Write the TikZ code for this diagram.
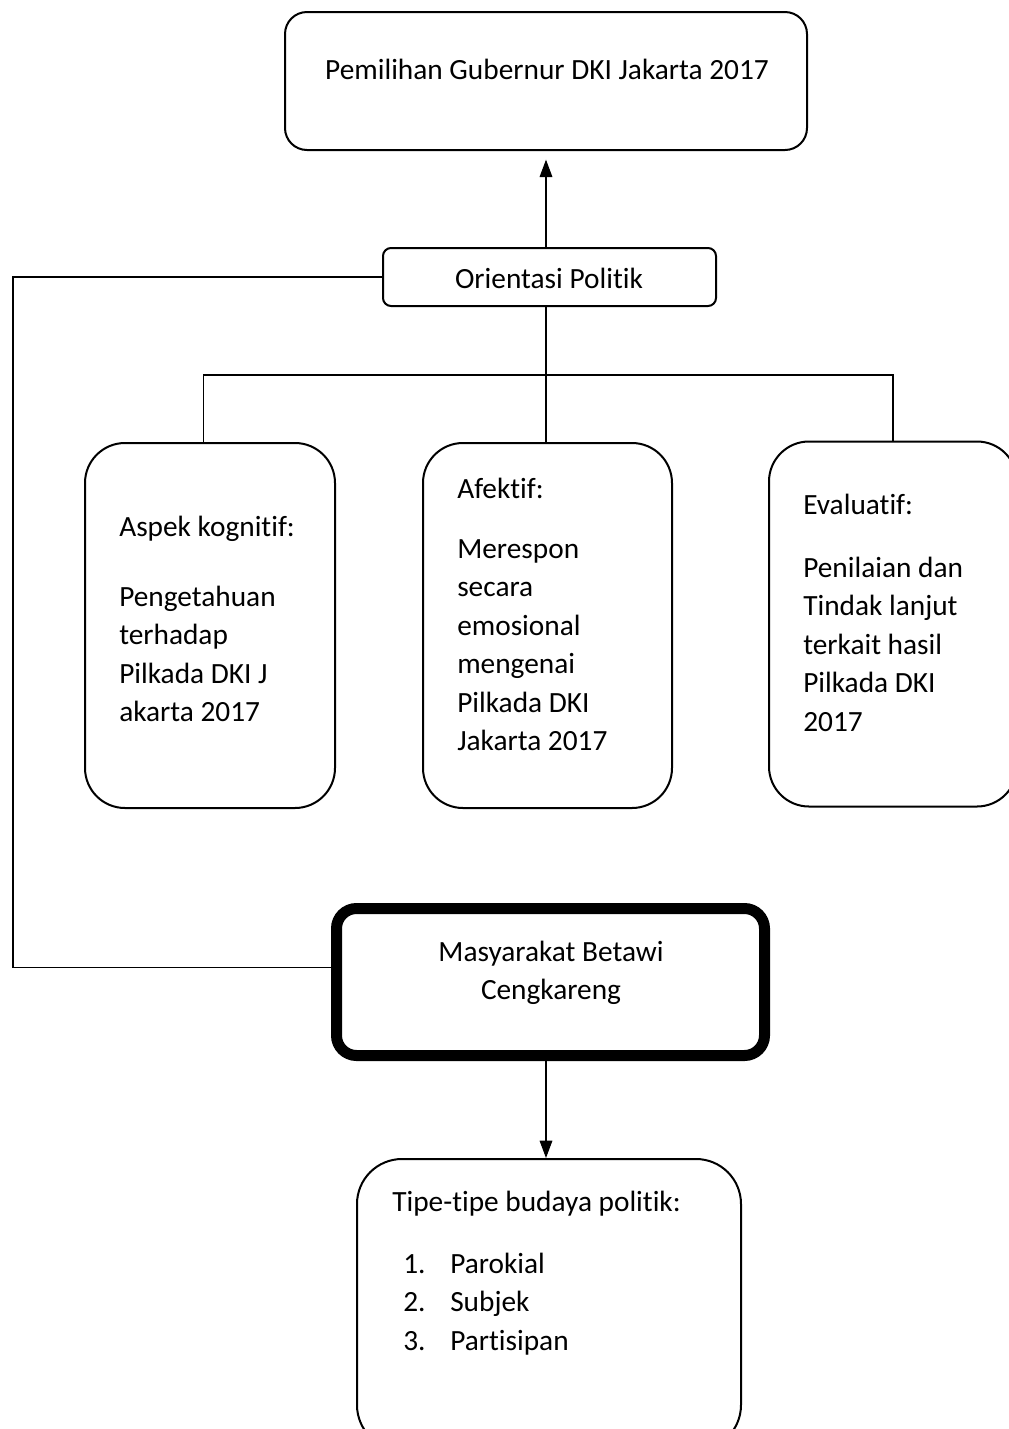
\documentclass[tikz,border=0pt]{standalone}
\usepackage{fontspec}
\setmainfont{Carlito}[Ligatures=NoCommon]
\usetikzlibrary{positioning, arrows.meta, calc}

\begin{document}
\begin{tikzpicture}[
  x=0.75pt, y=-0.75pt,
  box/.style={
    rectangle, rounded corners=#1, draw=black, line width=1.5pt,
    fill=white, inner sep=0pt
  },
  box/.default=16pt,
  txt/.style={font=\fontsize{22}{28.9}\selectfont, inner sep=0pt, align=left},
  arr/.style={-{Triangle[length=13pt,width=9.5pt]}, line width=0.8pt},
  link/.style={line width=1.1pt},
]
\useasboundingbox (0,0) rectangle (1009,1429);
\clip (0,0) rectangle (1009,1429);

% Pilkada
\node[box=16.5pt, minimum width=391.5pt, minimum height=103.5pt] (gub) at (546,81) {};
\node[txt, anchor=base] (gubtxt) at (547,79) {Pemilihan Gubernur DKI Jakarta 2017};

% Orientasi
\node[box=6pt, minimum width=249.75pt, minimum height=43.5pt] (orient) at (549.5,277) {};
\node[txt, anchor=base] (orienttxt) at (549,288) {Orientasi Politik};

% Kognitif
\node[box=30pt, minimum width=187.5pt, minimum height=273.75pt] (kog) at (210,625.5) {};
\node[txt, anchor=north west] (kogtxt) at (119,509) {\strut Aspek kognitif:\\[23.6pt]
  Pengetahuan\\
  terhadap\\
  Pilkada DKI J\\
  akarta 2017};

% Afektif
\node[box=30pt, minimum width=186.75pt, minimum height=273.75pt] (afek) at (547.5,625.5) {};
\node[txt, anchor=north west] (afektxt) at (457,471) {\strut Afektif:\\[16pt]
  Merespon\\
  secara\\
  emosional\\
  mengenai\\
  Pilkada DKI\\
  Jakarta 2017};

% Evaluatif
\node[box=30pt, minimum width=186pt, minimum height=273.75pt] (eval) at (893,624) {};
\node[txt, anchor=north west] (evaltxt) at (803,487) {\strut Evaluatif:\\[18.4pt]
  Penilaian dan\\
  Tindak lanjut\\
  terkait hasil\\
  Pilkada DKI\\
  2017};

% Masyarakat
\node[box=15pt, line width=8.25pt, minimum width=321pt, minimum height=110.25pt] (masy) at (550.5,982) {};
\node[txt, align=center, anchor=north] (masytxt) at (551,934) {\strut Masyarakat Betawi\\Cengkareng};

% Tipe budaya politik
\node[box=33.75pt, minimum width=288pt, minimum height=218.25pt] (tipe) at (549,1304.5) {};
\node[txt, anchor=north west] (tipetxt) at (392,1184) {\strut Tipe-tipe budaya politik:\\[17.6pt]
  \hspace*{8.25pt}\makebox[35.25pt][l]{1.}Parokial\\
  \hspace*{8.25pt}\makebox[35.25pt][l]{2.}Subjek\\
  \hspace*{8.25pt}\makebox[35.25pt][l]{3.}Partisipan};

% Connectors
\coordinate (lft) at (13,0);
\coordinate (bar) at (546,375);
\coordinate (masyin) at ([yshift=11pt]masy.west);
\draw[arr, shorten >=6.5pt] (gub.south |- orient.north) -- (gub.south);
\draw[link] (orient.west) -| (lft |- masyin) -- (masyin);
\draw[link] (gub.south |- orient.south) -- (gub.south |- afek.north);
\draw[link] ([xshift=-5pt]kog.north) |- (bar) -| (eval.north);
\draw[arr] (gub.south |- masy.south) -- (gub.south |- tipe.north);

\end{tikzpicture}
\end{document}
